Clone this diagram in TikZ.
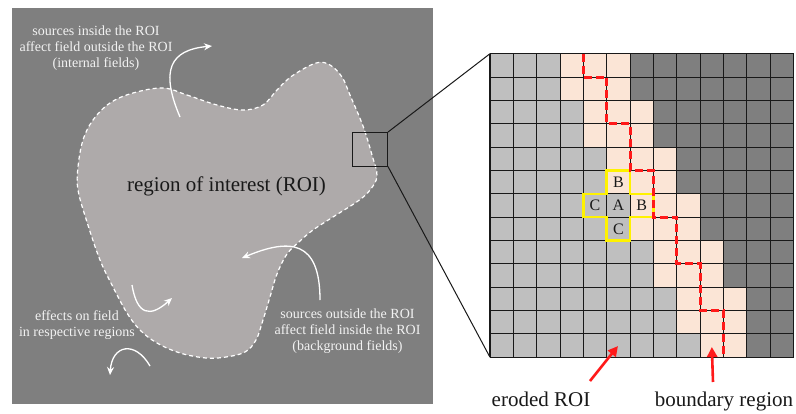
\documentclass[tikz,border=0pt]{standalone}
\usepackage{fontspec}
\setmainfont{Liberation Serif}
\usetikzlibrary{arrows.meta}
\definecolor{panelgray}{HTML}{7F7F7F}
\definecolor{roifill}{HTML}{AEAAAA}
\definecolor{cellgray}{HTML}{BFBFBF}
\definecolor{celldark}{HTML}{7F7F7F}
\definecolor{cellpeach}{HTML}{FBE5D6}
\definecolor{textwhite}{HTML}{F2F2F2}
\definecolor{hlred}{HTML}{FF1A1A}
\definecolor{hlyellow}{HTML}{FFF200}
\tikzset{
  whitearrow/.style={draw=white, line width=1.3pt, -{Stealth[length=8pt,width=7pt]}},
  redarrow/.style={draw=hlred, line width=2.6pt, -{Triangle[length=10pt,width=10pt]}},
  paneltext/.style={text=textwhite, font=\fontsize{14}{16}\selectfont, align=center, inner sep=0pt},
  biglabel/.style={font=\fontsize{21}{24}\selectfont, inner sep=0pt, text=black!90},
  cellletter/.style={font=\fontsize{16}{18}\selectfont, inner sep=0pt, text=black!90},
  gridline/.style={draw=black!90, line width=1.1pt},
  zoomline/.style={draw=black!90, line width=1pt},
  roioutline/.style={fill=roifill, draw=white!92, line width=1.2pt, dash pattern=on 4pt off 3pt},
}
\begin{document}
\begin{tikzpicture}[x=1pt,y=-1pt]
\useasboundingbox (0,0) rectangle (796,413);
\fill[white] (0,0) rectangle (796,413);
% left panel
\fill[panelgray] (12,8) rectangle (433,404);
\draw[roioutline] plot[smooth cycle, tension=0.6] coordinates {
 (163,88) (187,95) (217,105) (243,110) (263,105) (277,90) (292,76) (316,63)
 (330,65) (342,77) (350,95) (363,126) (372,155) (377,176) (370,190) (358,201)
 (333,217) (313,230) (300,241) (287,254) (277,274) (270,297) (263,320) (256,340)
 (245,352) (226,357) (206,358) (180,353) (157,343) (140,330) (127,313) (113,287)
 (100,260) (87,222) (78,190) (78,167) (83,140) (93,120) (110,103) (133,93)};
\node[biglabel, anchor=base] (roilabel) at (226.5,191.7) {region of interest (ROI)};
% panel texts
\node[paneltext] (inttext) at (96,48.5) {sources inside the ROI\\affect field outside the ROI\\(internal fields)};
\node[paneltext] (efftext) at (77,325) {effects on field\\in respective regions};
\node[paneltext] (bgtext) at (347.5,331) {sources outside the ROI\\affect field inside the ROI\\(background fields)};
% white arrows
\coordinate (intS) at (180,117);
\coordinate (intE) at (212,46);
\draw[whitearrow] (intS) .. controls (160,70) and (170,50) .. (intE);
\coordinate (bgS) at (320,300);
\coordinate (bgE) at (242,258);
\draw[whitearrow] (bgS) .. controls (320,240) and (290,238) .. (bgE);
\coordinate (inS) at (132,285);
\coordinate (inE) at (172,298);
\draw[whitearrow] (inS) .. controls (137,315) and (150,318) .. (inE);
\coordinate (outS) at (150,366);
\coordinate (outE) at (110,375);
\draw[whitearrow] (outS) .. controls (135,340) and (112,345) .. (outE);
% zoom box
\node[draw=black!90, line width=1pt, minimum width=35.2pt, minimum height=33.5pt, inner sep=0pt] (zbox) at (369.9,149.3) {};
\coordinate (gridTL) at (490,53.7);
\coordinate (gridBL) at (490,357.25);
\draw[zoomline] (zbox.north east) -- (gridTL);
\draw[zoomline] (zbox.south east) -- (gridBL);
% grid
\begin{scope}[xshift=490pt, yshift=-53.7pt, x=23.35pt, y=-23.35pt]
\foreach \r/\s/\e in {0/3/6,1/3/6,2/4/7,3/4/7,4/5/8,5/5/8,6/6/9,7/6/9,8/7/10,9/7/10,10/8/11,11/8/11,12/9/11} {
  \fill[cellgray] (0,\r) rectangle (\s,\r+1);
  \fill[cellpeach] (\s,\r) rectangle (\e,\r+1);
  \fill[celldark] (\e,\r) rectangle (13,\r+1);
}
\foreach \i in {0,...,13} {
  \draw[gridline] (\i,0) -- (\i,13);
  \draw[gridline] (0,\i) -- (13,\i);
}
\draw[hlyellow, line width=2.6pt, line join=miter] (5,5) -- (6,5) -- (6,6) -- (7,6) -- (7,7) -- (6,7) -- (6,8) -- (5,8) -- (5,7) -- (4,7) -- (4,6) -- (5,6) -- cycle;
\draw[hlred, line width=3pt, dash pattern=on 8pt off 4pt] (4,0) -- (4,1) -- (5,1) -- (5,3) -- (6,3) -- (6,5) -- (7,5) -- (7,7) -- (8,7) -- (8,9) -- (9,9) -- (9,11) -- (10,11) -- (10,13);
\node[cellletter] (cellA) at (5.5,6.5) {A};
\node[cellletter] (cellBtop) at (5.5,5.5) {B};
\node[cellletter] (cellBright) at (6.5,6.5) {B};
\node[cellletter] (cellCleft) at (4.5,6.5) {C};
\node[cellletter] (cellCbot) at (5.5,7.5) {C};
\coordinate (erodedTip) at (5.48,12.52);
\coordinate (boundaryTip) at (9.5,12.56);
\end{scope}
% bottom labels
\node[biglabel, anchor=base] (eroded) at (541,406.5) {eroded ROI};
\node[biglabel, anchor=base] (boundary) at (724,406.5) {boundary region};
\coordinate (erodedTail) at (590,381);
\coordinate (boundaryTail) at (713,382);
\draw[redarrow] (erodedTail) -- (erodedTip);
\draw[redarrow] (boundaryTail) -- (boundaryTip);
\end{tikzpicture}
\end{document}
